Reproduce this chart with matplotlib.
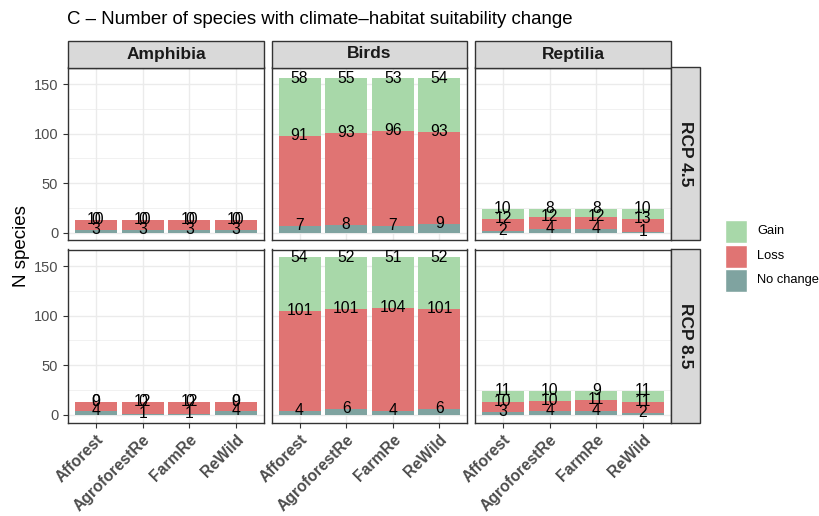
import matplotlib
matplotlib.use('Agg')

import matplotlib.pyplot as plt
import matplotlib.patches as patches
import numpy as np

plt.rcParams['font.family'] = ['Liberation Sans', 'DejaVu Sans']

methods = ["Afforest", "AgroforestRe", "FarmRe", "ReWild"]
taxa = ["Amphibia", "Birds", "Reptilia"]
scenarios = ["RCP 4.5", "RCP 8.5"]
classes = ["No change", "Loss", "Gain"]
class_colors = {"Gain": "#a8d8a9", "Loss": "#e07473", "No change": "#7fa3a0"}

# counts per method, keyed by (taxon, scenario)
no_change = {
    ("Amphibia", "RCP 4.5"): [3, 3, 3, 3],
    ("Birds", "RCP 4.5"): [7, 8, 7, 9],
    ("Reptilia", "RCP 4.5"): [2, 4, 4, 1],
    ("Amphibia", "RCP 8.5"): [4, 1, 1, 4],
    ("Birds", "RCP 8.5"): [4, 6, 4, 6],
    ("Reptilia", "RCP 8.5"): [3, 4, 4, 2],
}
loss = {
    ("Amphibia", "RCP 4.5"): [10, 10, 10, 10],
    ("Birds", "RCP 4.5"): [91, 93, 96, 93],
    ("Reptilia", "RCP 4.5"): [12, 12, 12, 13],
    ("Amphibia", "RCP 8.5"): [9, 12, 12, 9],
    ("Birds", "RCP 8.5"): [101, 101, 104, 101],
    ("Reptilia", "RCP 8.5"): [10, 10, 11, 11],
}
gain = {
    ("Amphibia", "RCP 4.5"): [0, 0, 0, 0],
    ("Birds", "RCP 4.5"): [58, 55, 53, 54],
    ("Reptilia", "RCP 4.5"): [10, 8, 8, 10],
    ("Amphibia", "RCP 8.5"): [0, 0, 0, 0],
    ("Birds", "RCP 8.5"): [54, 52, 51, 52],
    ("Reptilia", "RCP 8.5"): [11, 10, 9, 11],
}
series = {"No change": no_change, "Loss": loss, "Gain": gain}

W, H = 820, 516
fig = plt.figure(figsize=(W / 100, H / 100), dpi=100)


def fx(px):
    return px / W


def fy(py):
    return 1 - py / H


# panel geometry in pixels
lefts = [68, 271.5, 475]
pw = 196
tops = [67.5, 249.5]
ph = 173
strip_h = 27
strip_w = 29

ymax = max(np.sum([series[c][k] for c in classes], axis=0).max() for k in no_change)
ylim = (-0.05 * ymax, 1.05 * ymax)
x = np.arange(len(methods))

grid_col = "#ebebeb"
border_col = "#333333"
strip_fill = "#d9d9d9"

for r, scen in enumerate(scenarios):
    for c, taxon in enumerate(taxa):
        ax = fig.add_axes([fx(lefts[c]), fy(tops[r] + ph), fx(pw), ph / H])
        ax.set_xlim(-0.6, len(methods) - 0.4)
        ax.set_ylim(*ylim)
        ax.set_yticks([0, 50, 100, 150])
        ax.set_yticks([25, 75, 125], minor=True)
        ax.set_xticks(x)
        ax.grid(True, which='major', color=grid_col, lw=1.0)
        ax.grid(True, which='minor', axis='y', color=grid_col, lw=0.5)
        ax.set_axisbelow(True)
        for s in ax.spines.values():
            s.set_color(border_col)
            s.set_linewidth(1.0)

        key = (taxon, scen)
        bottom = np.zeros(len(methods))
        for cls in classes:
            vals = np.array(series[cls][key], dtype=float)
            ax.bar(x, vals, width=0.9, bottom=bottom, color=class_colors[cls],
                   edgecolor='none', zorder=2)
            top = bottom + vals
            for xi, (v, t) in enumerate(zip(vals, top)):
                ax.text(xi, t, "%d" % v, ha='center', va='center',
                        fontsize=11.3, color='black', zorder=3)
            bottom = top

        ax.tick_params(axis='both', which='minor', length=0)
        ax.tick_params(axis='both', which='major', length=3.5, width=0.8,
                       color='#333333', labelcolor='#4d4d4d')
        if c == 0:
            ax.tick_params(axis='y', labelsize=10.5)
        else:
            ax.tick_params(axis='y', length=0, labelleft=False)
        if r == 1:
            ax.set_xticklabels(methods, rotation=45, ha='right',
                               rotation_mode='anchor', fontsize=11.3,
                               fontweight='bold')
        else:
            ax.tick_params(axis='x', length=0, labelbottom=False)

        # column strip on top row
        if r == 0:
            fig.patches.append(patches.Rectangle(
                (fx(lefts[c]), fy(tops[0])), fx(pw), strip_h / H,
                transform=fig.transFigure, facecolor=strip_fill,
                edgecolor=border_col, lw=1.0))
            fig.text(fx(lefts[c] + pw / 2), fy(tops[0] - strip_h / 2), taxon,
                     ha='center', va='center', fontsize=12.5,
                     fontweight='bold', color='#1a1a1a')

    # row strip on right
    sx = lefts[-1] + pw
    fig.patches.append(patches.Rectangle(
        (fx(sx), fy(tops[r] + ph)), fx(strip_w), ph / H,
        transform=fig.transFigure, facecolor=strip_fill,
        edgecolor=border_col, lw=1.0))
    fig.text(fx(sx + strip_w / 2), fy(tops[r] + ph / 2), scen,
             ha='center', va='center', rotation=-90, fontsize=12.5,
             fontweight='bold', color='#1a1a1a')

fig.text(fx(67), fy(20), "C \u2013 Number of species with climate\u2013habitat suitability change",
         ha='left', va='center', fontsize=13.4, color='black')
fig.text(fx(22), fy(246), "N species", ha='center', va='center',
         rotation=90, fontsize=13.5, color='black')

# legend
for i, cls in enumerate(["Gain", "Loss", "No change"]):
    ky = 220 + i * 24.5
    fig.patches.append(patches.Rectangle(
        (fx(725), fy(ky + 23)), fx(22), 23 / H, transform=fig.transFigure,
        facecolor=class_colors[cls], edgecolor='white', lw=1.0))
    fig.text(fx(757), fy(ky + 11.5), cls, ha='left', va='center',
             fontsize=9.3, color='black')

fig.savefig("out.png", dpi=100, facecolor='white')
